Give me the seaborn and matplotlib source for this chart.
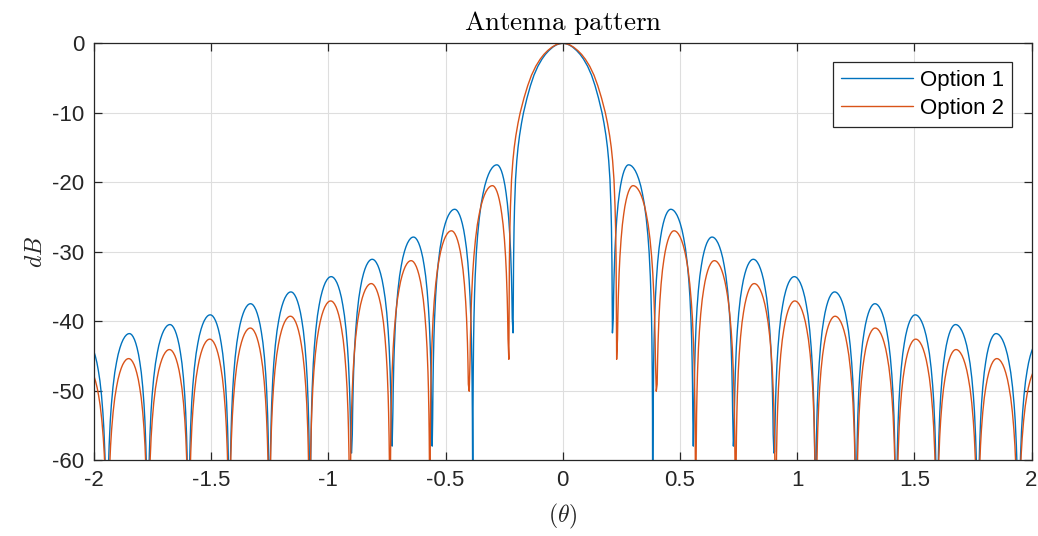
import numpy as np
import pandas as pd
import matplotlib
matplotlib.use("Agg")
import matplotlib.pyplot as plt
import seaborn as sns

# ---------------- data ----------------
series_names = ["Option 1", "Option 2"]
x_ticks = [-2, -1.5, -1, -0.5, 0, 0.5, 1, 1.5, 2]
y_ticks = [-60, -50, -40, -30, -20, -10, 0]

# Option 1: null positions / null depths, lobe peak positions / levels
opt1_nulls = [-2.118, -1.945, -1.771, -1.597, -1.422, -1.251, -1.078, -0.901, -0.728, -0.557, -0.384, -0.212,
              0.212, 0.384, 0.557, 0.728, 0.901, 1.078, 1.251, 1.422, 1.597, 1.771, 1.945, 2.118]
opt1_null_db = [-80, -80, -80, -80, -80, -80, -80, -59.0, -58.0, -58.0, -80, -41.7,
                -41.7, -80, -58.0, -58.0, -59.0, -80, -80, -80, -80, -80, -80, -80]
opt1_peak_theta = [-2.030, -1.849, -1.676, -1.504, -1.332, -1.160, -0.988, -0.813, -0.637, -0.461, -0.281, 0.0,
                   0.281, 0.461, 0.637, 0.813, 0.988, 1.160, 1.332, 1.504, 1.676, 1.849, 2.030]
opt1_peak_db = [-43.0, -41.8, -40.5, -39.1, -37.5, -35.8, -33.6, -31.1, -27.9, -23.9, -17.5, 0.0,
                -17.5, -23.9, -27.9, -31.1, -33.6, -35.8, -37.5, -39.1, -40.5, -41.8, -43.0]

# Option 2
opt2_nulls = [-2.116, -1.943, -1.770, -1.596, -1.423, -1.252, -1.080, -0.908, -0.737, -0.567, -0.399, -0.230,
              0.230, 0.399, 0.567, 0.737, 0.908, 1.080, 1.252, 1.423, 1.596, 1.770, 1.943, 2.116]
opt2_null_db = [-80, -80, -80, -80, -80, -80, -80, -80, -80, -80, -50.1, -45.5,
                -45.5, -50.1, -80, -80, -80, -80, -80, -80, -80, -80, -80, -80]
opt2_peak_theta = [-2.030, -1.852, -1.678, -1.506, -1.333, -1.162, -0.990, -0.817, -0.647, -0.475, -0.300, 0.0,
                   0.300, 0.475, 0.647, 0.817, 0.990, 1.162, 1.333, 1.506, 1.678, 1.852, 2.030]
opt2_peak_db = [-46.6, -45.4, -44.1, -42.6, -41.0, -39.3, -37.1, -34.6, -31.3, -27.0, -20.5, 0.0,
                -20.5, -27.0, -31.3, -34.6, -37.1, -39.3, -41.0, -42.6, -44.1, -45.4, -46.6]

# lobe shape: fraction of the way from null to peak, and level below the peak (dB)
side_lobe_frac = [0.01, 0.02, 0.035, 0.05, 0.075, 0.1, 0.15, 0.2, 0.27, 0.35, 0.43, 0.5,
                  0.58, 0.65, 0.72, 0.8, 0.87, 0.93, 0.97]
side_lobe_drop = [-36.1, -30.1, -25.2, -22.1, -18.6, -16.1, -12.6, -10.2, -7.7, -5.6, -4.1, -3.0,
                  -2.05, -1.39, -0.87, -0.44, -0.18, -0.05, -0.01]
main_lobe_frac = [0.01, 0.02, 0.03, 0.05, 0.075, 0.1, 0.13, 0.17, 0.21, 0.28, 0.35, 0.42, 0.5,
                  0.58, 0.65, 0.72, 0.8, 0.87, 0.93, 0.97]
main_lobe_drop = [-31.5, -26.5, -23.5, -19.6, -16.9, -15.0, -13.3, -11.5, -10.0, -7.9, -6.1, -4.6, -3.3,
                  -2.3, -1.6, -1.05, -0.55, -0.23, -0.07, -0.02]


def build_curve(nulls, null_db, peak_t, peak_db):
    xs, ys = [nulls[0]], [null_db[0]]
    for i in range(len(peak_t)):
        a, b = nulls[i], nulls[i + 1]
        xp, yp = peak_t[i], peak_db[i]
        if yp == 0.0:
            fr, dr = main_lobe_frac, main_lobe_drop
        else:
            fr, dr = side_lobe_frac, side_lobe_drop
        for g, d in zip(fr, dr):
            y = yp + d
            if y > null_db[i]:
                xs.append(a + g * (xp - a)); ys.append(y)
        xs.append(xp); ys.append(yp)
        for g, d in zip(fr[::-1], dr[::-1]):
            y = yp + d
            if y > null_db[i + 1]:
                xs.append(b - g * (b - xp)); ys.append(y)
        xs.append(b); ys.append(null_db[i + 1])
    return xs, ys


frames = []
for name, args in zip(series_names,
                      [(opt1_nulls, opt1_null_db, opt1_peak_theta, opt1_peak_db),
                       (opt2_nulls, opt2_null_db, opt2_peak_theta, opt2_peak_db)]):
    xs, ys = build_curve(*args)
    frames.append(pd.DataFrame({"theta": xs, "dB": ys, "option": name}))
df = pd.concat(frames, ignore_index=True)

# ---------------- style ----------------
sns.set_theme(style="whitegrid")
plt.rcParams["font.family"] = ["Liberation Sans", "DejaVu Sans"]
plt.rcParams["mathtext.fontset"] = "cm"

dark = "#262626"
fig = plt.figure(figsize=(10.38, 5.36), dpi=100)
ax = fig.add_axes([94 / 1038, 1 - 460 / 536, 937.5 / 1038, 416.7 / 536])

sns.lineplot(data=df, x="theta", y="dB", hue="option", palette=["#0072BD", "#D95319"],
             sort=False, estimator=None, linewidth=1.0, ax=ax)

ax.set_xlim(-2, 2)
ax.set_ylim(-60, 0)
ax.set_xticks(x_ticks)
ax.set_xticklabels([f"{t:g}" for t in x_ticks])
ax.set_yticks(y_ticks)
ax.set_yticklabels([f"{t:g}" for t in y_ticks])

ax.set_facecolor("white")
ax.grid(True, color="#dedede", linewidth=0.8)
for s in ax.spines.values():
    s.set_visible(True)
    s.set_color(dark)
    s.set_linewidth(0.9)
ax.tick_params(axis="both", which="both", direction="in", length=6, width=0.9, color=dark,
               labelsize=16, labelcolor=dark, top=True, right=True, bottom=True, left=True)
ax.tick_params(axis="y", pad=7)
ax.tick_params(axis="x", pad=7)

ax.set_title(r"$\mathrm{Antenna\ pattern}$", fontsize=19.5, color="black", pad=0, y=1.032)
ax.set_xlabel(r"$(\theta)$", fontsize=17, color=dark)
ax.set_ylabel(r"$dB$", fontsize=17, color=dark)
ax.xaxis.set_label_coords(0.5, -0.1)
ax.yaxis.set_label_coords(-0.05, 0.5)

handles, labels = ax.get_legend_handles_labels()
leg = ax.legend(handles, labels, loc="upper right", bbox_to_anchor=(0.979, 0.954), borderaxespad=0,
                fontsize=16, frameon=True, fancybox=False, framealpha=1, edgecolor=dark,
                handlelength=3.25, handletextpad=0.3, labelspacing=0.3, borderpad=0.35)
leg.get_frame().set_linewidth(0.9)
for t in leg.get_texts():
    t.set_color("black")

fig.savefig("out.png", dpi=100, facecolor="white")
